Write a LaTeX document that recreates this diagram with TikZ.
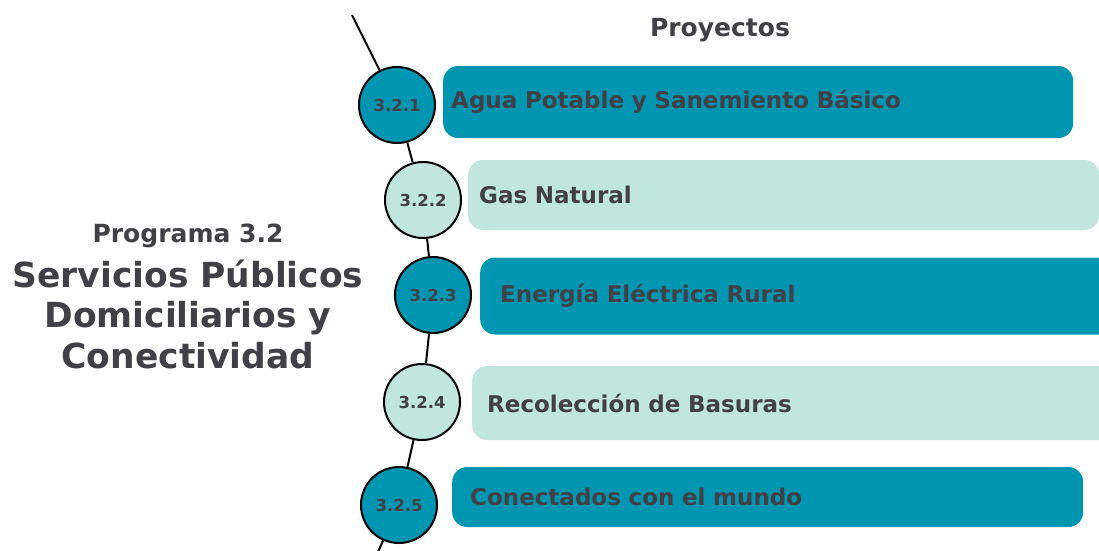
\documentclass[tikz,border=0pt]{standalone}
\usepackage{fontspec}
\setmainfont{DejaVu Sans}
\usetikzlibrary{positioning}
\definecolor{tealdark}{HTML}{0096B1}
\definecolor{teallight}{HTML}{C0E6DE}
\definecolor{inkgrey}{HTML}{414046}
\tikzset{
  darkbox/.style={fill=tealdark,rounded corners=15pt,anchor=west,align=left,font=\fontsize{23}{26}\selectfont\bfseries},
  lightbox/.style={fill=teallight,rounded corners=15pt,anchor=west,align=left,font=\fontsize{23}{26}\selectfont\bfseries},
  darkdot/.style={circle,draw=black,line width=2pt,fill=tealdark,minimum size=76pt,inner sep=0pt,font=\fontsize{16.5}{18}\selectfont\bfseries},
  lightdot/.style={circle,draw=black,line width=2pt,fill=teallight,minimum size=76pt,inner sep=0pt,font=\fontsize{16.5}{18}\selectfont\bfseries}
}
\begin{document}
\begin{tikzpicture}[x=1pt,y=-1pt,text=inkgrey]
        \useasboundingbox (0,0) rectangle (1099,550);
        % headings
        \node[font=\fontsize{25}{28}\selectfont\bfseries] (proy) at (720,30) {Proyectos};
        \node[font=\fontsize{25}{28}\selectfont\bfseries] (prog) at (188,236) {Programa 3.2};
        \node[align=center,font=\fontsize{34.5}{40.5}\selectfont\bfseries] (title) at (188,314) {Servicios Públicos\\Domiciliarios y\\Conectividad};
        % project boxes
        \node[darkbox,minimum height=72pt,text width=614pt,inner xsep=8pt] (b1) at (443,102) {Agua Potable y Sanemiento Básico};
        \node[lightbox,minimum height=70pt,text width=609pt,inner xsep=11pt] (b2) at (468,195) {Gas Natural};
        \node[darkbox,minimum height=77pt,text width=600pt,inner xsep=20pt] (b3) at (480,296) {Energía Eléctrica Rural};
        \node[lightbox,minimum height=74pt,text width=620pt,inner xsep=15pt] (b4) at (472,403) {Recolección de Basuras};
        \node[darkbox,minimum height=60pt,text width=595pt,inner xsep=18pt] (b5) at (452,497) {Conectados con el mundo};
        % numbered dots
        \node[darkdot] (c1) at (397,105) {3.2.1};
        \node[lightdot] (c2) at (423,200) {3.2.2};
        \node[darkdot] (c3) at (433,295) {3.2.3};
        \node[lightdot] (c4) at (422,402) {3.2.4};
        \node[darkdot] (c5) at (399,505) {3.2.5};
        \coordinate (top) at (352,15);
        \coordinate (bot) at (378,552);
        \draw[line width=2pt] (top) -- (c1);
        \draw[line width=2pt] (c1) -- (c2);
        \draw[line width=2pt] (c2) -- (c3);
        \draw[line width=2pt] (c3) -- (c4);
        \draw[line width=2pt] (c4) -- (c5);
        \draw[line width=2pt] (c5) -- (bot);
    \end{tikzpicture}
\end{document}
